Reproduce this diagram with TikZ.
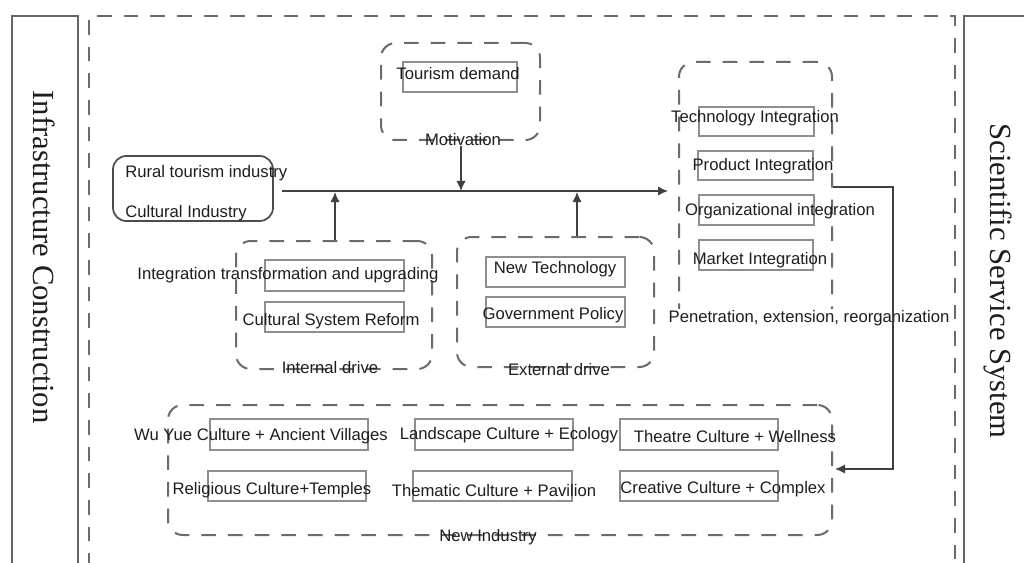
\documentclass[tikz,border=0pt]{standalone}
\usepackage{fontspec}
\setmainfont{Liberation Sans}
\newfontfamily\serifside{Liberation Serif}
\usetikzlibrary{fit,arrows.meta}
\definecolor{dgray}{HTML}{6B6B6B}
\definecolor{lgray}{HTML}{8E8E8E}
\definecolor{ink}{HTML}{1E1E1E}
\definecolor{lineink}{HTML}{404040}
\begin{document}
\begin{tikzpicture}[x=0.75pt,y=-0.75pt,
  txt/.style={font=\fontsize{12.5}{15}\selectfont, text=ink, inner sep=0pt, yshift=-1pt},
  side/.style={font=\serifside\fontsize{23}{27}\selectfont, text=ink, rotate=-90, inner sep=0pt},
  dbox/.style={draw=dgray, line width=1.5pt, dash pattern=on 11pt off 9pt, rounded corners=11pt, inner sep=0pt},
  ibox/.style={draw=lgray, line width=1.1pt, inner sep=0pt},
  sbox/.style={draw=gray!80!black, line width=1.3pt, inner sep=0pt},
  arr/.style={draw=lineink, line width=1.2pt, -{Latex[length=7.5pt,width=7pt]}}]
\useasboundingbox (0,0) rectangle (1024,563);
\clip (0,0) rectangle (1024,563);
\fill[white] (0,0) rectangle (1024,563);

% side bars
\node[sbox, fit={(12,16) (78,600)}] (leftbar) {};
\node[sbox, fit={(964,16) (1040,600)}] (rightbar) {};
\node[side] (lefttxt) at (44,257) {Infrastructure Construction};
\node[side] (righttxt) at (998,281) {Scientific Service System};

% outer dashed frame
\node[dbox, rounded corners=0pt, fit={(89,16) (955,600)}] (outer) {};

% motivation
\node[dbox, fit={(381,43) (540,140)}] (mot) {};
\node[ibox, fit={(403,62) (517,92)}] (tdbox) {};
\node[txt] (td) at (458,72) {Tourism demand};
\node[txt] (motl) at (463,138) {Motivation};

% rural box
\node[draw=gray!60!black, line width=1.3pt, rounded corners=10pt, inner sep=0pt, fit={(113,156) (273,221)}] (rural) {};
\node[txt, anchor=west] (r1) at (125,172) {Rural tourism industry};
\node[txt, anchor=west] (r2) at (125,212) {Cultural Industry};

% integration
\node[dbox, fit={(679,62) (832,322)}] (integ) {};
\node[ibox, fit={(699,107) (814,136)}] (b1) {};
\node[txt] (t1) at (755,117) {Technology Integration};
\node[ibox, fit={(698,151) (813,180)}] (b2) {};
\node[txt] (t2) at (763,165) {Product Integration};
\node[ibox, fit={(699,195) (814,225)}] (b3) {};
\node[txt] (t3) at (780,210) {Organizational integration};
\node[ibox, fit={(699,240) (813,270)}] (b4) {};
\node[txt] (t4) at (760,259) {Market Integration};
\node[txt, fill=white, inner sep=1pt] (pen) at (809,317) {Penetration, extension, reorganization};

% internal drive
\node[dbox, fit={(236,241) (432,369)}] (int) {};
\node[ibox, fit={(265,260) (404,291)}] (ib1) {};
\node[txt] (it1) at (288,274) {Integration transformation and upgrading};
\node[ibox, fit={(265,302) (404,332)}] (ib2) {};
\node[txt] (it2) at (331,320) {Cultural System Reform};
\node[txt] (intl) at (330,366) {Internal drive};

% external drive
\node[dbox, fit={(457,237) (654,367)}] (ext) {};
\node[ibox, fit={(486,257) (625,287)}] (eb1) {};
\node[txt] (et1) at (555,268) {New Technology};
\node[ibox, fit={(486,297) (625,327)}] (eb2) {};
\node[txt] (et2) at (553,314) {Government Policy};
\node[txt] (extl) at (559,368) {External drive};

% new industry
\node[dbox, fit={(168,405) (832,535)}] (ind) {};
\node[ibox, fit={(210,419) (368,450)}] (n1) {};
\node[txt] (nt1) at (261,435) {Wu Yue Culture + Ancient Villages};
\node[ibox, fit={(415,419) (573,450)}] (n2) {};
\node[txt] (nt2) at (509,434) {Landscape Culture + Ecology};
\node[ibox, fit={(620,419) (778,450)}] (n3) {};
\node[txt] (nt3) at (735,435) {Theatre Culture + Wellness};
\node[ibox, fit={(208,471) (366,501)}] (n4) {};
\node[txt] (nt4) at (272,489) {Religious Culture+Temples};
\node[ibox, fit={(413,471) (572,501)}] (n5) {};
\node[txt] (nt5) at (494,489) {Thematic Culture + Pavilion};
\node[ibox, fit={(620,471) (778,501)}] (n6) {};
\node[txt] (nt6) at (723,488) {Creative Culture + Complex};
\node[txt] (indl) at (488,536) {New Industry};

% connectors
\coordinate (ml1) at (282,191);
\coordinate (ml2) at (668,191);
\coordinate (ia) at (335,192);
\coordinate (ea) at (577,192);
\coordinate (ma) at (461,191);
\coordinate (rc1) at (893,187);
\coordinate (rc2) at (893,469);
\draw[arr] (ml1) -- (ml2);
\draw[arr] (ma |- motl.south) -- (ma);
\draw[arr] (int.north -| ia) -- (ia);
\draw[arr] (ext.north -| ea) -- (ea);
\draw[arr] (integ.east |- rc1) -- (rc1) -- (rc2) -- ([xshift=1.5pt]ind.east |- rc2);
\end{tikzpicture}
\end{document}
